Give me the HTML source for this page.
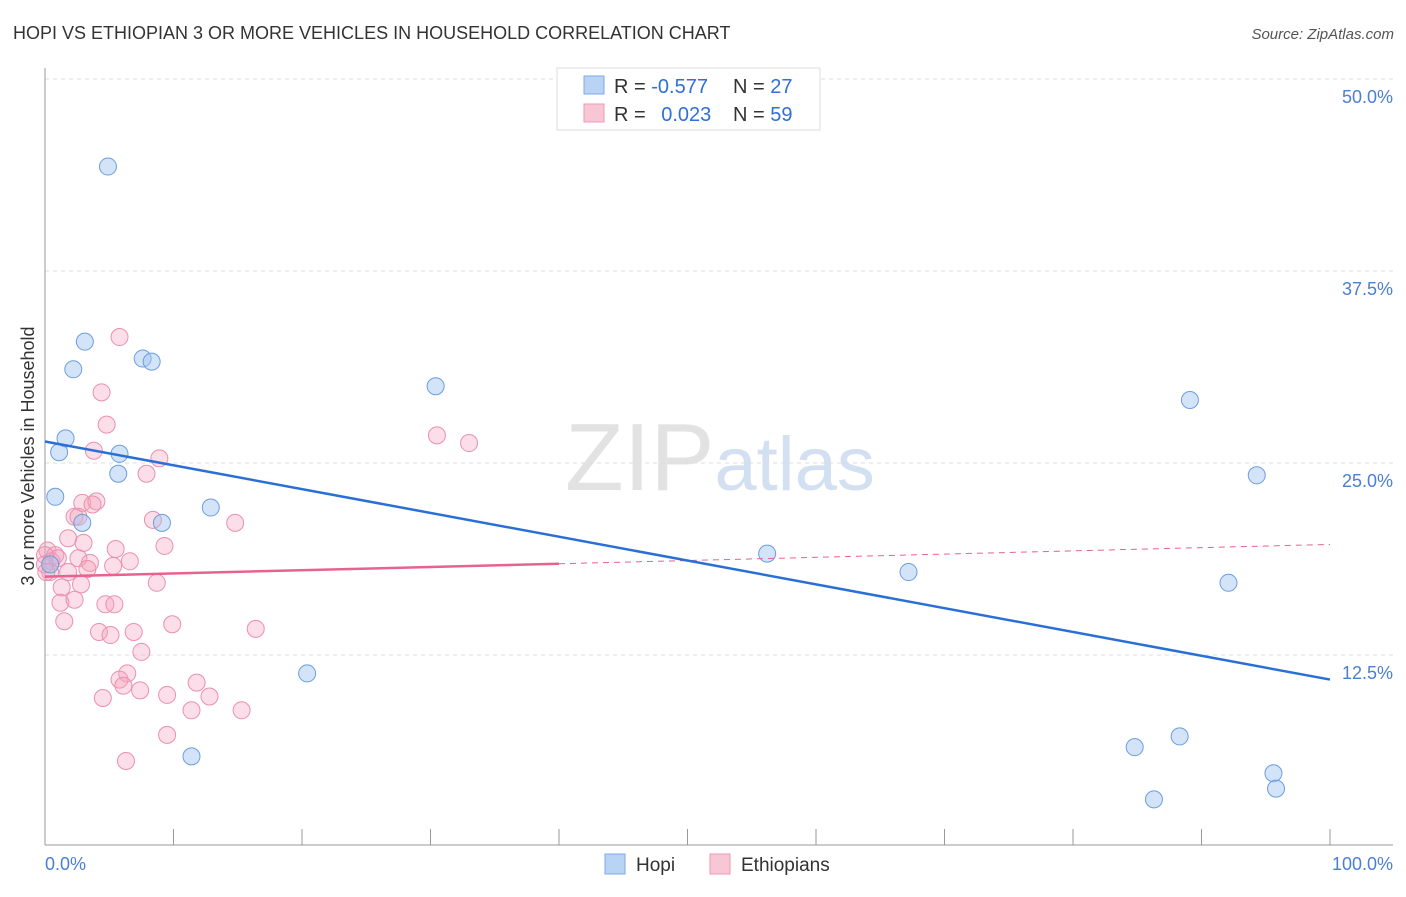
<!DOCTYPE html>
<html><head><meta charset="utf-8"><style>
body{margin:0;background:#fff;font-family:"Liberation Sans",sans-serif;}
svg text{font-family:"Liberation Sans",sans-serif;}
</style></head><body>
<svg id="chart" width="1406" height="892" xmlns="http://www.w3.org/2000/svg">
<text x="13" y="39" font-size="18" fill="#333">HOPI VS ETHIOPIAN 3 OR MORE VEHICLES IN HOUSEHOLD CORRELATION CHART</text>
<text x="1394" y="39" font-size="15" fill="#555" text-anchor="end" font-style="italic">Source: ZipAtlas.com</text>
<text x="720" y="490" font-size="96" text-anchor="middle" fill="#e2e2e2" font-family="Liberation Serif">ZIP<tspan fill="#d3e0f2" font-family="Liberation Sans" font-size="76">atlas</tspan></text>
<g id="grid"></g>
<line x1="45" y1="68" x2="45" y2="845" stroke="#999" stroke-width="1"/>
<line x1="45" y1="845" x2="1393" y2="845" stroke="#999" stroke-width="1"/>
<g id="ticks"></g>
<text transform="translate(34,456) rotate(-90)" font-size="18" fill="#333" text-anchor="middle">3 or more Vehicles in Household</text>
<text x="45" y="870" font-size="18" fill="#4a7fd4">0.0%</text>
<text x="1393" y="870" font-size="18" fill="#4a7fd4" text-anchor="end">100.0%</text>
<g id="points"></g>
<g id="lines"></g>
<g>
<rect x="557" y="68" width="263" height="62" fill="#fff" stroke="#ddd"/>
<rect x="584" y="76" width="20" height="18" fill="#b9d3f5" stroke="#7ea9e6"/>
<rect x="584" y="104" width="20" height="18" fill="#f9c6d5" stroke="#ef9ab5"/>
<text x="614" y="93" font-size="20" fill="#333">R = <tspan fill="#2f6fd6">-0.577</tspan></text>
<text x="733" y="93" font-size="20" fill="#333">N = <tspan fill="#2f6fd6">27</tspan></text>
<text x="614" y="121" font-size="20" fill="#333">R = <tspan fill="#2f6fd6" dx="10">0.023</tspan></text>
<text x="733" y="121" font-size="20" fill="#333">N = <tspan fill="#2f6fd6">59</tspan></text>
</g>
<g><rect x="605" y="854" width="20" height="20" fill="#b9d3f5" stroke="#7ea9e6"/><text x="636" y="871" font-size="19" fill="#333">Hopi</text></g>
<g><rect x="710" y="854" width="20" height="20" fill="#f9c6d5" stroke="#ef9ab5"/><text x="741" y="871" font-size="19" fill="#333">Ethiopians</text></g>
</svg>
<script>
const yTicks=[12.5,25,37.5,50];
const xTickCount=10;
const hopiX=[4.9,3.1,2.2,7.6,8.3,30.4,89.1,1.6,1.1,5.8,5.7,94.3,0.8,12.9,2.9,9.1,56.2,67.2,92.1,20.4,84.8,88.3,11.4,95.6,95.8,86.3,0.4];
const hopiY=[44.3,32.9,31.1,31.8,31.6,30.0,29.1,26.6,25.7,25.6,24.3,24.2,22.8,22.1,21.1,21.1,19.1,17.9,17.2,11.3,6.5,7.2,5.9,4.8,3.8,3.1,18.4];
const ethX=[5.8,4.4,4.8,3.8,8.9,7.9,30.5,33.0,2.9,4.0,3.7,2.3,2.6,8.4,14.8,1.8,3.0,5.5,9.3,0.2,0.8,0.5,1.0,2.6,3.5,6.6,5.3,3.3,1.8,0.4,1.3,2.8,8.7,1.2,2.3,4.7,5.4,1.5,4.2,5.1,6.9,9.9,16.4,7.5,6.4,5.8,6.1,7.4,9.5,11.8,12.8,4.5,11.4,15.3,9.5,6.3,0.0,0.0,0.1];
const ethY=[33.2,29.6,27.5,25.8,25.3,24.3,26.8,26.3,22.4,22.5,22.3,21.5,21.5,21.3,21.1,20.1,19.8,19.4,19.6,19.3,19.0,18.6,18.8,18.8,18.5,18.6,18.3,18.1,17.9,17.9,16.9,17.1,17.2,15.9,16.1,15.8,15.8,14.7,14.0,13.8,14.0,14.5,14.2,12.7,11.3,10.9,10.5,10.2,9.9,10.7,9.8,9.7,8.9,8.9,7.3,5.6,19.0,18.4,17.9];
const hopiFit=[26.4,10.9];
const ethFit=[17.6,19.7];
const ethSolidEnd=40;
const X0=45,X1=1330,Y0=847,YS=768/50;
const sx=v=>X0+v/100*(X1-X0), sy=v=>Y0-v*YS;
const NS='http://www.w3.org/2000/svg';
function mk(tag,attrs,parent){const e=document.createElementNS(NS,tag);for(const k in attrs)e.setAttribute(k,attrs[k]);document.getElementById(parent).appendChild(e);return e;}
yTicks.forEach(t=>{
 const g=mk('line',{x1:45,x2:1393,y1:sy(t),y2:sy(t),stroke:'#ddd','stroke-dasharray':'4,4'},'grid');
 
 
 const tx=mk('text',{x:1393,y:sy(t)+24,'font-size':18,fill:'#4a7fd4','text-anchor':'end'},'grid');
 tx.textContent=t.toFixed(1)+'%';
 
 
});
for(let i=0;i<=xTickCount;i++){
 const l=mk('line',{x1:sx(i*10),x2:sx(i*10),y1:829,y2:845,stroke:'#999'},'ticks');
 
 
}
ethX.forEach((x,i)=>{
 const c=mk('circle',{cx:sx(x),cy:sy(ethY[i]),r:8.5,fill:'rgba(244,160,185,0.35)',stroke:'#ec8faf','stroke-width':1},'points');
 
 
});
hopiX.forEach((x,i)=>{
 const c=mk('circle',{cx:sx(x),cy:sy(hopiY[i]),r:8.5,fill:'rgba(160,195,240,0.45)',stroke:'#6b9de0','stroke-width':1},'points');
 
 
});
const ym=ethFit[0]+(ethFit[1]-ethFit[0])*ethSolidEnd/100;
const l1=mk('line',{x1:sx(0),y1:sy(ethFit[0]),x2:sx(ethSolidEnd),y2:sy(ym),stroke:'#e8628e','stroke-width':2.5},'lines');


const l2=mk('line',{x1:sx(ethSolidEnd),y1:sy(ym),x2:sx(100),y2:sy(ethFit[1]),stroke:'#e8628e','stroke-width':1,'stroke-dasharray':'6,5'},'lines');


const l3=mk('line',{x1:sx(0),y1:sy(hopiFit[0]),x2:sx(100),y2:sy(hopiFit[1]),stroke:'#2a6fd6','stroke-width':2.5},'lines');


</script>
</body></html>
